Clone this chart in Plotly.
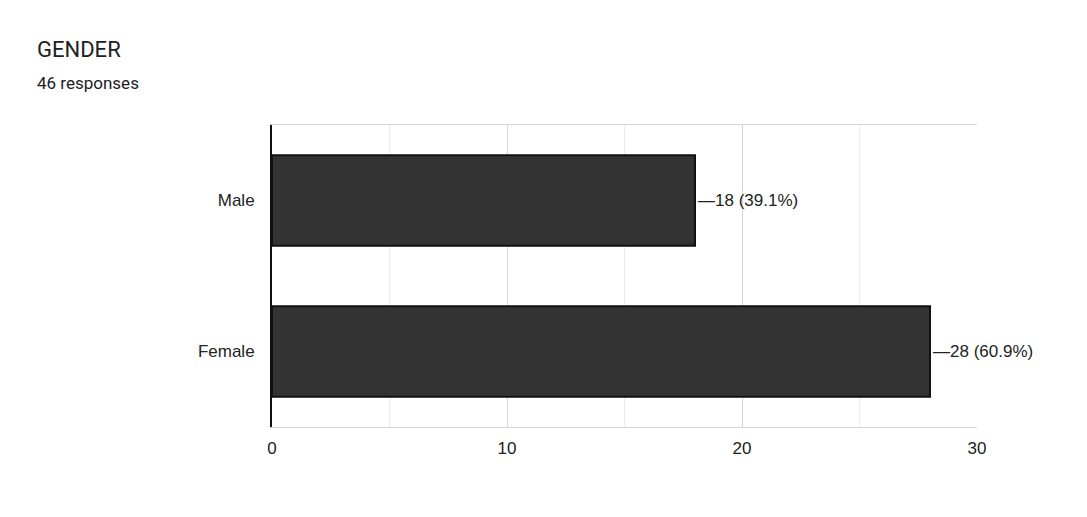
import plotly.graph_objects as go

# Survey data
categories = ["Male", "Female"]
counts = [18, 28]
total = 46
labels = [f"—{c} ({c / total * 100:.1f}%)" for c in counts]

fig = go.Figure()
fig.add_trace(go.Bar(
    y=categories, x=counts, orientation="h",
    width=0.6,
    marker=dict(color="#333333", line=dict(color="#111111", width=2)),
    text=labels, textposition="outside", cliponaxis=False,
    textfont=dict(family="Liberation Sans", size=17, color="#222222"),
    hoverinfo="skip",
))

# page has an 8px body margin, so margins are trimmed to match pixel positions
fig.update_layout(
    width=1087, height=517,
    margin=dict(l=264, r=118, t=117, b=98),
    paper_bgcolor="white", plot_bgcolor="white",
    showlegend=False,
    font=dict(family="Liberation Sans", size=17, color="#222222"),
)
fig.update_xaxes(
    range=[0, 30], dtick=10, showgrid=True, gridcolor="#d6d6d6", gridwidth=1,
    minor=dict(dtick=5, showgrid=True, gridcolor="#ececec"),
    showline=True, linecolor="#d6d6d6", mirror=True, zeroline=False,
    ticks="", ticklabelstandoff=6,
    tickfont=dict(family="Liberation Sans", size=17, color="#222222"),
)
fig.update_yaxes(
    autorange="reversed", showline=True, linecolor="#111111", linewidth=2,
    showgrid=False, ticks="", ticklabelstandoff=12,
    tickfont=dict(family="Liberation Sans", size=17, color="#222222"),
)

# header texts, placed in pixels relative to the plot area
fig.add_annotation(text="GENDER", xref="paper", yref="paper",
                   x=-237 / 705, y=1 + 75 / 302,
                   xanchor="left", yanchor="middle", showarrow=False,
                   font=dict(family="Roboto", size=22, color="#202124"))
fig.add_annotation(text="46 responses", xref="paper", yref="paper",
                   x=-237 / 705, y=1 + 42 / 302,
                   xanchor="left", yanchor="middle", showarrow=False,
                   font=dict(family="Roboto", size=17, color="#202124"))

fig.write_html("out.html")
